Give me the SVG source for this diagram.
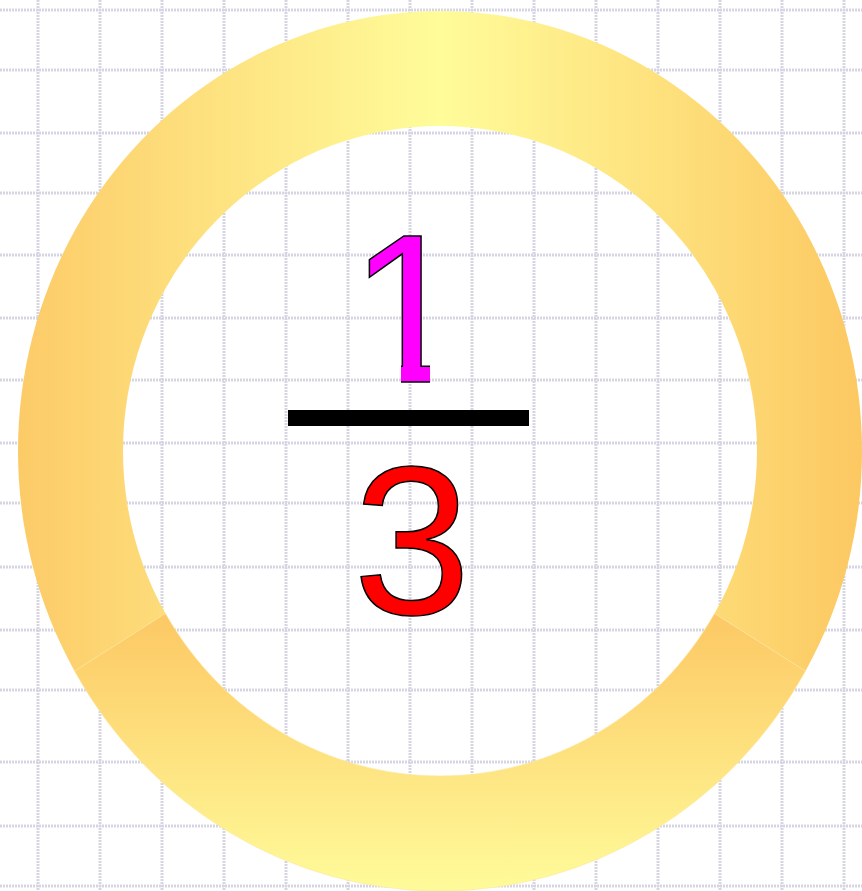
<svg xmlns="http://www.w3.org/2000/svg" width="862" height="891" viewBox="0 0 862 891">
<defs>
<style>
.grid line{stroke:#d6d6e2;stroke-width:3;stroke-dasharray:2 1}
.num{font-family:"Liberation Sans",Arial,sans-serif;font-size:212px;stroke:#000;stroke-width:1.5}
</style>
<linearGradient id="gTop" gradientUnits="userSpaceOnUse" x1="18" y1="0" x2="862" y2="0">
<stop offset="0" stop-color="#fccb68"/>
<stop offset="0.5" stop-color="#fffc9a"/>
<stop offset="1" stop-color="#fcc862"/>
</linearGradient>
<linearGradient id="gBot" gradientUnits="userSpaceOnUse" x1="0" y1="613" x2="0" y2="891">
<stop offset="0" stop-color="#fcc864"/>
<stop offset="1" stop-color="#fffb9a"/>
</linearGradient>
<clipPath id="noFoot" clipPathUnits="userSpaceOnUse">
<rect x="0" y="0" width="862" height="360"/>
<rect x="401" y="0" width="29" height="400"/>
</clipPath>
</defs>
<rect width="862" height="891" fill="#ffffff"/>
<g id="grid" class="grid">
<line x1="38" y1="0" x2="38" y2="891"/>
<line x1="100" y1="0" x2="100" y2="891"/>
<line x1="162" y1="0" x2="162" y2="891"/>
<line x1="224" y1="0" x2="224" y2="891"/>
<line x1="286" y1="0" x2="286" y2="891"/>
<line x1="348" y1="0" x2="348" y2="891"/>
<line x1="410" y1="0" x2="410" y2="891"/>
<line x1="472" y1="0" x2="472" y2="891"/>
<line x1="534" y1="0" x2="534" y2="891"/>
<line x1="596" y1="0" x2="596" y2="891"/>
<line x1="658" y1="0" x2="658" y2="891"/>
<line x1="720" y1="0" x2="720" y2="891"/>
<line x1="782" y1="0" x2="782" y2="891"/>
<line x1="844" y1="0" x2="844" y2="891"/>
<line x1="0" y1="10" x2="862" y2="10"/>
<line x1="0" y1="70" x2="862" y2="70"/>
<line x1="0" y1="133" x2="862" y2="133"/>
<line x1="0" y1="193" x2="862" y2="193"/>
<line x1="0" y1="255" x2="862" y2="255"/>
<line x1="0" y1="318" x2="862" y2="318"/>
<line x1="0" y1="380" x2="862" y2="380"/>
<line x1="0" y1="443" x2="862" y2="443"/>
<line x1="0" y1="503" x2="862" y2="503"/>
<line x1="0" y1="567" x2="862" y2="567"/>
<line x1="0" y1="630" x2="862" y2="630"/>
<line x1="0" y1="690" x2="862" y2="690"/>
<line x1="0" y1="762" x2="862" y2="762"/>
<line x1="0" y1="826" x2="862" y2="826"/>
<line x1="0" y1="886" x2="862" y2="886"/>
</g>
<g id="ring">
<path id="ring-top" d="M 74.5 671 A 422 440 0 1 1 805.5 671 L 714.5 613.5 A 317 325 0 1 0 165.5 613.5 Z" fill="url(#gTop)"/>
<path id="ring-bottom" d="M 74.5 671 A 422 440 0 0 0 805.5 671 L 714.5 613.5 A 317 325 0 0 1 165.5 613.5 Z" fill="url(#gBot)" stroke="#fde6a0" stroke-width="0.6"/>
</g>
<g id="fraction">
<text class="num" x="349" y="382" fill="#ff00ff" clip-path="url(#noFoot)">1</text>
<rect x="288" y="410" width="241" height="16" fill="#000"/>
<text class="num" x="412" y="614" fill="#ff0000" text-anchor="middle">3</text>
</g>
</svg>
